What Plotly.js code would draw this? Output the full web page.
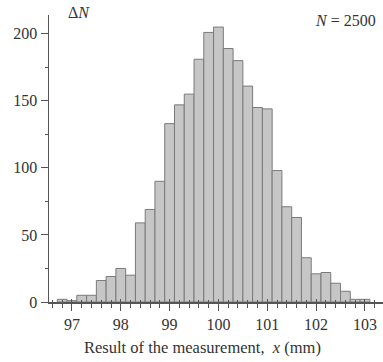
<!DOCTYPE html>
<html>
<head>
<meta charset="utf-8">
<script src="https://cdn.plot.ly/plotly-3.0.1.min.js"></script>
<style>html,body{margin:0;padding:0;background:#fff;}#chart{width:383px;height:362px;}</style>
</head>
<body>
<div id="chart"></div>
<script>
// Bin centres (mm), bin width 0.2 mm
const binCenters = [96.8, 97.0, 97.2, 97.4, 97.6, 97.8, 98.0, 98.2, 98.4, 98.6, 98.8,
  99.0, 99.2, 99.4, 99.6, 99.8, 100.0, 100.2, 100.4, 100.6, 100.8, 101.0,
  101.2, 101.4, 101.6, 101.8, 102.0, 102.2, 102.4, 102.6, 102.8, 103.0];
const counts = [2, 1, 5, 5, 16, 19, 25, 20, 59, 69, 90,
  133, 147, 155, 181, 201, 205, 189, 180, 161, 145, 144,
  98, 71, 63, 33, 21, 22, 14, 8, 2, 2];
const xTickVals = [97, 98, 99, 100, 101, 102, 103];
const yTickVals = [0, 50, 100, 150, 200];

const serif = "Liberation Serif, Times New Roman, serif";
const txt = "#333";
const axc = "#555";
const xr = [96.53, 103.37];

const bars = {
  type: "bar", x: binCenters, y: counts, width: 0.2,
  marker: {color: "#c6c6c6", line: {color: "#7a7a7a", width: 1}},
  hoverinfo: "skip"
};
const dummy = {type: "scatter", x: [], y: [], xaxis: "x2", yaxis: "y", hoverinfo: "skip", showlegend: false};

const layout = {
  width: 383, height: 362,
  margin: {l: 49, r: 0, t: 15, b: 60},
  paper_bgcolor: "#fff", plot_bgcolor: "#fff",
  showlegend: false, bargap: 0,
  font: {family: serif, color: txt, size: 16},
  xaxis: {
    range: xr, showgrid: false, zeroline: false,
    showline: true, linecolor: axc, linewidth: 1.5,
    tickmode: "array", tickvals: xTickVals, ticktext: xTickVals.map(String),
    ticks: "outside", ticklen: 7, tickwidth: 1, tickcolor: axc,
    minor: {tickmode: "linear", tick0: 96.6, dtick: 0.2, ticks: "outside", ticklen: 4, tickwidth: 1, tickcolor: axc, showgrid: false},
    tickfont: {family: serif, size: 16, color: txt},
    fixedrange: true
  },
  xaxis2: {
    overlaying: "x", anchor: "y", side: "bottom", range: xr,
    showgrid: false, zeroline: false, showline: false, showticklabels: false,
    tickmode: "array", tickvals: xTickVals,
    ticks: "inside", ticklen: 3, tickwidth: 1, tickcolor: axc,
    minor: {tickmode: "linear", tick0: 96.6, dtick: 0.2, ticks: "inside", ticklen: 2, tickwidth: 1, tickcolor: axc, showgrid: false},
    fixedrange: true
  },
  yaxis: {
    range: [0, 214], showgrid: false, zeroline: false,
    showline: true, linecolor: axc, linewidth: 1.5,
    tickmode: "array", tickvals: yTickVals, ticktext: yTickVals.map(String),
    ticks: "outside", ticklen: 7, tickwidth: 1, tickcolor: axc,
    minor: {tickmode: "linear", tick0: 25, dtick: 50, ticks: "outside", ticklen: 3, tickwidth: 1, tickcolor: axc, showgrid: false},
    tickfont: {family: serif, size: 16, color: txt},
    fixedrange: true
  },
  annotations: [
    {xref: "paper", yref: "paper", x: 0.05, y: 1.01, xanchor: "left", yanchor: "middle",
     text: "Δ<i>N</i>", showarrow: false, font: {family: serif, size: 16, color: txt}},
    {xref: "paper", yref: "paper", x: 0.985, y: 0.98, xanchor: "right", yanchor: "middle",
     text: "<i>N</i> = 2500", showarrow: false, font: {family: serif, size: 16, color: txt}},
    {xref: "paper", yref: "paper", x: 0.46, y: -0.16, xanchor: "center", yanchor: "middle",
     text: "Result of the measurement,  <i>x</i> (mm)", showarrow: false, font: {family: serif, size: 16.5, color: txt}}
  ]
};

Plotly.newPlot("chart", [bars, dummy], layout, {displayModeBar: false, staticPlot: true});
</script>
</body>
</html>
